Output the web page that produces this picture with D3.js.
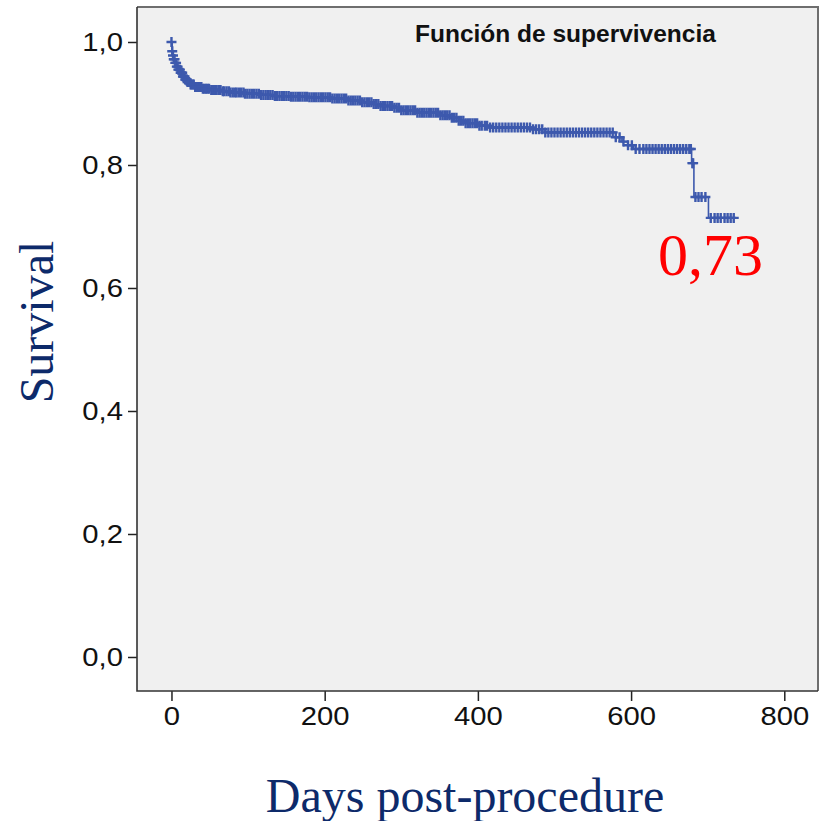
<!DOCTYPE html>
<html>
<head>
<meta charset="utf-8">
<script src="https://cdn.jsdelivr.net/npm/d3@7"></script>
<style>
  html, body { margin: 0; padding: 0; background: #ffffff; }
  svg { display: block; }
</style>
</head>
<body>
<div class="survivalChart"></div>
<script>
// Kaplan-Meier steps: [day, survival after the step]
var stepDays = [0, 1, 2, 3, 5, 7, 9, 12, 15, 18, 21, 25, 31, 40, 51, 65, 77, 95, 116, 135, 155, 180, 208, 230, 247, 262, 273, 290, 299, 320, 351, 365, 375, 384, 400, 416, 469, 488, 580, 588, 596, 603, 679, 682, 701];
var stepSurvival = [1.0, 0.985, 0.978, 0.972, 0.966, 0.96, 0.955, 0.95, 0.944, 0.939, 0.935, 0.931, 0.927, 0.924, 0.922, 0.92, 0.918, 0.916, 0.914, 0.912, 0.911, 0.91, 0.908, 0.905, 0.902, 0.899, 0.896, 0.893, 0.889, 0.885, 0.881, 0.877, 0.872, 0.868, 0.864, 0.861, 0.858, 0.853, 0.845, 0.838, 0.832, 0.826, 0.803, 0.748, 0.714];
var lastDay = 734;

// censored observations (days)
var censorDays = [0, 1, 2, 3, 4, 5, 6, 7, 8, 9, 10, 11, 12, 13, 14, 15, 16, 17, 18, 19, 20, 21, 22, 23, 25, 26, 28, 29, 31, 33, 35, 37, 39, 41, 43, 45, 47, 49, 52, 54, 57, 59, 62, 64, 67, 69, 72, 75, 77, 80, 83, 85, 88, 91, 94, 96, 99, 102, 105, 108, 111, 114, 117, 120, 123, 126, 129, 132, 135, 138, 141, 144, 147, 150, 153, 156, 159, 162, 165, 168, 171, 174, 177, 180, 183, 186, 189, 192, 195, 198, 201, 204, 207, 210, 213, 216, 219, 222, 225, 228, 231, 234, 237, 240, 243, 246, 249, 252, 255, 258, 261, 264, 267, 270, 273, 276, 279, 282, 285, 288, 291, 294, 297, 300, 303, 306, 309, 312, 315, 318, 321, 324, 327, 330, 333, 336, 339, 342, 345, 348, 351, 354, 357, 360, 363, 366, 369, 372, 375, 378, 381, 384, 387, 390, 393, 396, 399, 402, 405, 409, 412, 416, 420, 424, 428, 432, 436, 440, 444, 448, 452, 456, 460, 464, 468, 472, 476, 480, 484, 488, 492, 496, 500, 504, 508, 512, 516, 520, 524, 528, 532, 536, 540, 544, 548, 552, 556, 560, 564, 568, 572, 576, 580, 585, 590, 596, 601, 606, 611, 616, 620, 624, 628, 632, 636, 640, 644, 648, 652, 656, 660, 664, 668, 672, 676, 678, 680, 681, 684, 688, 692, 697, 704, 709, 713, 717, 722, 726, 730, 734];

var yTicks = [0, 0.2, 0.4, 0.6, 0.8, 1.0];
var xTicks = [0, 200, 400, 600, 800];

var chartTitle = "Función de supervivencia";
var yLabel = "Survival";
var xLabel = "Days post-procedure";
var finalLabel = "0,73";

(function () {
    var width = 823, height = 821;
    var frame = { left: 137, top: 7, right: 818, bottom: 691 };
    var blue = "#3d59ad";
    var stretch = 1.17; // tick labels are drawn wider than plain Arial

    var svg = d3.select(".survivalChart").append("svg")
        .attr("width", width)
        .attr("height", height);

    var x = d3.scaleLinear().domain([-45, 844]).range([frame.left, frame.right]);
    var y = d3.scaleLinear().domain([-0.0553, 1.0569]).range([frame.bottom, frame.top]);

    var survivalAt = function (t) {
        var s = stepSurvival[0];
        for (var i = 0; i < stepDays.length; i++) {
            if (stepDays[i] <= t) { s = stepSurvival[i]; }
        }
        return s;
    };

    /*
        Plot area
    */
    svg.append("rect")
        .attr("x", frame.left)
        .attr("y", frame.top)
        .attr("width", frame.right - frame.left)
        .attr("height", frame.bottom - frame.top)
        .attr("fill", "#f0f0f0");

    svg.append("path")
        .attr("d", "M" + frame.left + "," + frame.top + "H" + frame.right + "V" + frame.bottom)
        .attr("fill", "none")
        .attr("stroke", "#6e6e6e")
        .attr("stroke-width", 2);

    /*
        Axes
    */
    var yAxis = svg.append("g")
        .attr("transform", "translate(" + frame.left + ",0)")
        .call(d3.axisLeft(y)
            .tickValues(yTicks)
            .tickSize(9)
            .tickPadding(3)
            .tickFormat(function (d) { return d3.format(".1f")(d).replace(".", ","); }));

    var xAxis = svg.append("g")
        .attr("transform", "translate(0," + frame.bottom + ")")
        .call(d3.axisBottom(x)
            .tickValues(xTicks)
            .tickSize(10)
            .tickPadding(6)
            .tickFormat(d3.format("d")));

    [yAxis, xAxis].forEach(function (axis) {
        axis.select(".domain").remove();
        axis.selectAll("line").attr("stroke", "#222").attr("stroke-width", 1.5);
        axis.selectAll("text")
            .attr("fill", "#111")
            .attr("font-family", "'Liberation Sans', Arial, sans-serif")
            .attr("font-size", 25)
            .attr("transform", "scale(" + stretch + ",1)");
    });

    svg.append("path")
        .attr("d", "M" + frame.left + "," + frame.top + "V" + frame.bottom + "H" + frame.right)
        .attr("fill", "none")
        .attr("stroke", "#333")
        .attr("stroke-width", 1.6);

    /*
        Survival curve
    */
    var points = stepDays.map(function (d, i) { return [d, stepSurvival[i]]; });
    points.push([lastDay, stepSurvival[stepSurvival.length - 1]]);

    var line = d3.line()
        .x(function (d) { return x(d[0]); })
        .y(function (d) { return y(d[1]); })
        .curve(d3.curveStepAfter);

    svg.append("path")
        .datum(points)
        .attr("d", line)
        .attr("fill", "none")
        .attr("stroke", blue)
        .attr("stroke-width", 1.6);

    svg.append("g").selectAll("path")
        .data(censorDays)
        .enter().append("path")
        .attr("transform", function (d) { return "translate(" + x(d) + "," + y(survivalAt(d)) + ")"; })
        .attr("d", "M-5,0H5M0,-5V5")
        .attr("stroke", blue)
        .attr("stroke-width", 2.4)
        .attr("fill", "none");

    /*
        Texts
    */
    svg.append("text")
        .attr("x", 415)
        .attr("y", 42)
        .attr("font-family", "'Liberation Sans', Arial, sans-serif")
        .attr("font-weight", "bold")
        .attr("font-size", 24.5)
        .attr("fill", "#111")
        .text(chartTitle);

    svg.append("text")
        .attr("transform", "translate(53,322) rotate(-90)")
        .attr("text-anchor", "middle")
        .attr("font-family", "'Liberation Serif', 'Times New Roman', serif")
        .attr("font-size", 48)
        .attr("fill", "#0d2a6a")
        .text(yLabel);

    svg.append("text")
        .attr("x", 465)
        .attr("y", 812)
        .attr("text-anchor", "middle")
        .attr("font-family", "'Liberation Serif', 'Times New Roman', serif")
        .attr("font-size", 48)
        .attr("fill", "#0d2a6a")
        .text(xLabel);

    svg.append("text")
        .attr("x", 658)
        .attr("y", 275)
        .attr("font-family", "'Liberation Serif', 'Times New Roman', serif")
        .attr("font-size", 60)
        .attr("fill", "#ff0000")
        .text(finalLabel);
})();
</script>
</body>
</html>
